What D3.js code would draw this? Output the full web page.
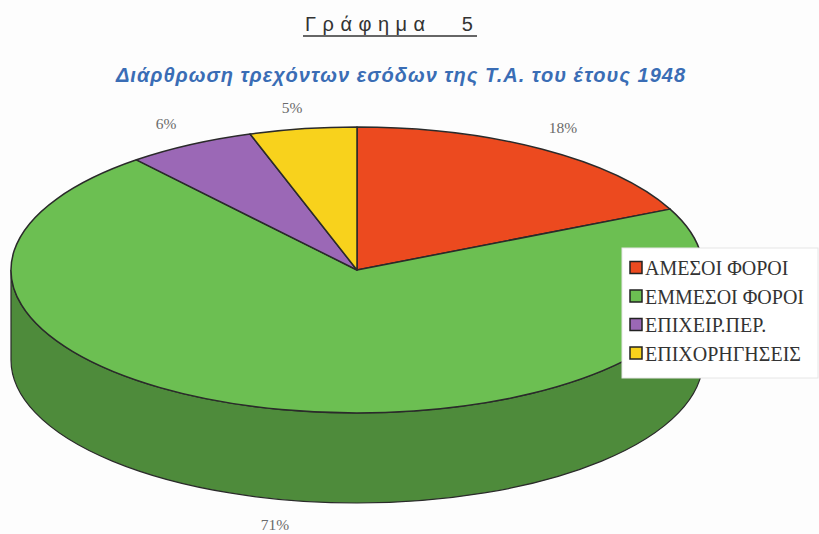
<!DOCTYPE html>
<html>
<head>
<meta charset="utf-8">
<script src="https://cdnjs.cloudflare.com/ajax/libs/d3/7.8.5/d3.min.js"></script>
<style>
  html, body { margin: 0; padding: 0; background: #fdfdfd; }
  svg { display: block; }
</style>
</head>
<body>
<svg width="819" height="534"></svg>
<script>
var width = 819, height = 534;

// data
var categories = ["ΑΜΕΣΟΙ ΦΟΡΟΙ", "ΕΜΜΕΣΟΙ ΦΟΡΟΙ", "ΕΠΙΧΕΙΡ.ΠΕΡ.", "ΕΠΙΧΟΡΗΓΗΣΕΙΣ"];
var values = [18, 71, 6, 5];
var labels = ["18%", "71%", "6%", "5%"];
var colors = ["#EC4A1F", "#6CBF52", "#9B68B6", "#F8D21C"];

var svg = d3.select("svg");

// 3d pie geometry
var cx = 357, cy = 270, rx = 346, ry = 143, depth = 90;

function pt(a, dy) {
	return [cx + rx * Math.sin(a), cy - ry * Math.cos(a) + (dy || 0)];
}

var pie = d3.pie().sort(null).value(function(d) { return d.value; });
var arcs = pie(categories.map(function(c, i) {
	return {name: c, value: values[i], color: colors[i], label: labels[i]};
}));

function topPath(d) {
	var p0 = pt(d.startAngle), p1 = pt(d.endAngle);
	var large = (d.endAngle - d.startAngle) > Math.PI ? 1 : 0;
	return "M" + cx + "," + cy + "L" + p0 + "A" + rx + "," + ry + " 0 " + large + ",1 " + p1 + "Z";
}

function sidePath(a0, a1) {
	var p0 = pt(a0), p1 = pt(a1), q1 = pt(a1, depth), q0 = pt(a0, depth);
	return "M" + p0 + "A" + rx + "," + ry + " 0 0,1 " + p1 +
		"L" + q1 + "A" + rx + "," + ry + " 0 0,0 " + q0 + "Z";
}

// walls: only the front half (angles between pi/2 and 3pi/2) is visible
var walls = [];
arcs.forEach(function(d) {
	var a0 = Math.max(d.startAngle, Math.PI / 2),
	    a1 = Math.min(d.endAngle, 3 * Math.PI / 2);
	if (a1 > a0) walls.push({a0: a0, a1: a1, color: d.data.color});
});

svg.append("g").selectAll("path")
	.data(walls)
	.enter()
	.append("path")
	.attr("d", function(d) { return sidePath(d.a0, d.a1); })
	.attr("fill", function(d) { return d3.color(d.color).darker(0.9); })
	.attr("stroke", "#2a2a2a")
	.attr("stroke-width", 1.2);

svg.append("g").selectAll("path")
	.data(arcs)
	.enter()
	.append("path")
	.attr("d", topPath)
	.attr("fill", function(d) { return d.data.color; })
	.attr("stroke", "#2a2a2a")
	.attr("stroke-width", 1.5)
	.attr("stroke-linejoin", "round");

// percent labels
var labelPos = [[563, 128], [275, 525], [166, 124], [292, 108]];
svg.append("g").selectAll("text")
	.data(arcs)
	.enter()
	.append("text")
	.attr("x", function(d, i) { return labelPos[i][0]; })
	.attr("y", function(d, i) { return labelPos[i][1]; })
	.attr("dy", "0.35em")
	.attr("text-anchor", "middle")
	.attr("font-family", "Liberation Serif, serif")
	.attr("font-size", 15.5)
	.attr("fill", "#6a6a6a")
	.text(function(d) { return d.data.label; });

// legend
var legend = svg.append("g").attr("transform", "translate(622,248)");
legend.append("rect")
	.attr("width", 196)
	.attr("height", 130)
	.attr("fill", "#ffffff")
	.attr("stroke", "#e6e6e6");

var item = legend.selectAll("g.item")
	.data(arcs)
	.enter()
	.append("g")
	.attr("class", "item")
	.attr("transform", function(d, i) { return "translate(8," + (20 + i * 28.5) + ")"; });

item.append("rect")
	.attr("x", 0)
	.attr("y", -6.5)
	.attr("width", 12)
	.attr("height", 12)
	.attr("fill", function(d) { return d.data.color; })
	.attr("stroke", "#222")
	.attr("stroke-width", 1.5);

item.append("text")
	.attr("x", 15)
	.attr("y", 0)
	.attr("dy", "0.36em")
	.attr("font-family", "Liberation Serif, serif")
	.attr("font-size", 20)
	.attr("fill", "#333")
	.text(function(d) { return d.data.name; });

// titles
var title = svg.append("text")
	.attr("x", 305)
	.attr("y", 31)
	.attr("font-family", "Liberation Sans, Arial, sans-serif")
	.attr("font-size", 20)
	.attr("letter-spacing", 6.5)
	.attr("fill", "#333");
title.append("tspan").text("Γράφημα");
title.append("tspan").attr("dx", 30).text("5");

svg.append("line")
	.attr("x1", 303).attr("x2", 477)
	.attr("y1", 36).attr("y2", 36)
	.attr("stroke", "#333")
	.attr("stroke-width", 1.5);

svg.append("text")
	.attr("x", 401)
	.attr("y", 75)
	.attr("dy", "0.35em")
	.attr("text-anchor", "middle")
	.attr("font-family", "Liberation Sans, Arial, sans-serif")
	.attr("font-size", 20)
	.attr("letter-spacing", 1)
	.attr("font-weight", "bold")
	.attr("font-style", "italic")
	.attr("fill", "#3A6DB5")
	.text("Διάρθρωση τρεχόντων εσόδων της Τ.Α. του έτους 1948");
</script>
</body>
</html>
